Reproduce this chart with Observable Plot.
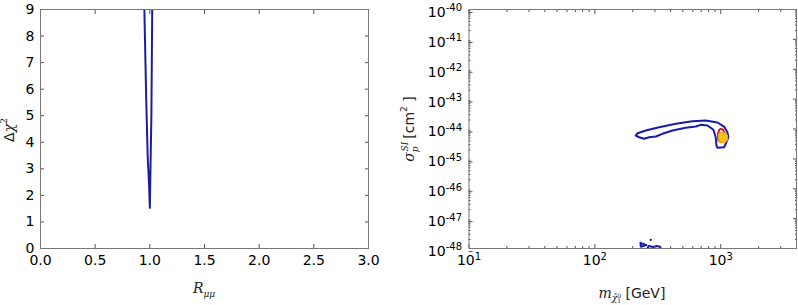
<!DOCTYPE html>
<html><head><meta charset="utf-8">
<script src="https://cdn.jsdelivr.net/npm/d3@7"></script>
<script src="https://cdn.jsdelivr.net/npm/@observablehq/plot@0.6"></script>
<style>
html,body{margin:0;padding:0;background:#fff;}
#wrap{position:relative;width:798px;height:305px;overflow:hidden;background:#fff;}
#left,#right{position:absolute;top:0;}
#left{left:0;} #right{left:380px;}
</style></head><body><div id="wrap"><div id="left"></div><div id="right"></div></div>
<script>
// ---- Left panel: Delta chi^2 vs R_mumu ----
const rmumu = [0.950, 0.967, 0.980, 0.993, 1.000, 1.014, 1.022];
const dchi2 = [9.0, 5.6, 3.5, 2.4, 1.53, 5.0, 9.0];
const leftXTicks = [0, 0.5, 1.0, 1.5, 2.0, 2.5, 3.0];
const leftYTicks = [0, 1, 2, 3, 4, 5, 6, 7, 8, 9];

// ---- Right panel: sigma_p^SI vs neutralino mass ----
const outerMass  = [211, 218, 254, 324, 440, 596, 760, 942, 1062, 1130, 1151, 1096, 1062, 942, 925, 912, 875, 784, 693, 634, 527, 414, 344, 305, 270, 246, 225, 211];
const outerSigma = [6.05e-45, 7.2e-45, 8.9e-45, 1.15e-44, 1.49e-44, 1.82e-44, 1.93e-44, 1.65e-44, 1.21e-44, 7.8e-45, 5.3e-45, 3.2e-45, 2.46e-45, 2.35e-45, 2.8e-45, 5.3e-45, 9.4e-45, 1.31e-44, 1.38e-44, 1.21e-44, 1.1e-44, 8.9e-45, 6.9e-45, 5.6e-45, 5.3e-45, 4.7e-45, 5.3e-45, 6.05e-45];
const redMass  = [955, 950, 972, 1000, 1045, 1078, 1085, 1020, 955];
const redSigma = [4.2e-45, 6.8e-45, 9.2e-45, 1.02e-44, 9.3e-45, 7.0e-45, 4.2e-45, 3.6e-45, 4.2e-45];
const yelMass  = [962, 1000, 1090, 1135, 1130, 1090, 1000, 962, 962];
const yelSigma = [6.8e-45, 7.6e-45, 7.3e-45, 6.0e-45, 4.3e-45, 3.6e-45, 3.5e-45, 4.2e-45, 6.8e-45];
const blobAMass  = [230, 257, 232, 230];
const blobASigma = [1.55e-48, 1.3e-48, 1.15e-48, 1.55e-48];
const blobBMass  = [258, 268, 290, 310, 330, 336];
const blobBSigma = [0.9e-48, 1.22e-48, 1.12e-48, 1.22e-48, 1.15e-48, 0.9e-48];
const dotMass = [278];
const dotSigma = [1.95e-48];
const rightXTicks = [1e1, 1e2, 1e3];
const rightYTicks = [1e-40, 1e-41, 1e-42, 1e-43, 1e-44, 1e-45, 1e-46, 1e-47, 1e-48];

const zip = (xs, ys) => xs.map((x, i) => ({x, y: ys[i]}));
const minorX = [];
for (const d of [10, 100, 1000]) for (let k = 2; k <= 9; k++) if (k * d <= 4000) minorX.push(k * d);
const minorY = [];
for (let e = -48; e < -40; e++) for (let k = 2; k <= 9; k++) minorY.push(k * Math.pow(10, e));

const FONT = "DejaVu Sans";
const AX = "#555";
const FS = 14;
const empty = () => "";

function supify(svg) {
  d3.select(svg).selectAll("text").each(function () {
    const t = this.textContent;
    if (t && t.includes("^")) {
      const [b, e] = t.split("^");
      const s = d3.select(this);
      this.textContent = "";
      s.append("tspan").text(b);
      s.append("tspan").attr("dy", "-0.55em").attr("font-size", "10px").text(e);
    }
  });
}

// Left plot
const left = Plot.plot({
  width: 380, height: 305,
  marginLeft: 40, marginRight: 12, marginTop: 9, marginBottom: 57,
  style: {fontFamily: FONT, fontSize: "14px", color: "#000", background: "transparent"},
  x: {domain: [0, 3]},
  y: {domain: [0, 9]},
  marks: [
    Plot.line(zip(rmumu, dchi2), {x: "x", y: "y", stroke: "#1e1e9a", strokeWidth: 2, clip: true}),
    Plot.axisX(leftXTicks, {anchor: "bottom", tickSize: -4, tickPadding: 11, fontSize: FS, stroke: AX, tickFormat: d3.format(".1f"), label: null}),
    Plot.axisX(leftXTicks, {anchor: "top", tickSize: -4, stroke: AX, tickFormat: empty, label: null}),
    Plot.axisY(leftYTicks, {anchor: "left", tickSize: -4, tickPadding: 10, fontSize: FS, stroke: AX, tickFormat: d3.format("d"), label: null}),
    Plot.axisY(leftYTicks, {anchor: "right", tickSize: -4, stroke: AX, tickFormat: empty, label: null}),
    Plot.frame({stroke: "#777"})
  ]
});
document.getElementById("left").append(left);
{
  const s = d3.select(left);
  const yl = s.append("text").attr("transform", "translate(14,130) rotate(-90)")
    .attr("text-anchor", "middle").attr("fill", "#222").attr("font-size", "14px");
  yl.append("tspan").attr("font-family", "DejaVu Sans").text("Δ");
  yl.append("tspan").attr("font-family", "DejaVu Serif").attr("font-style", "italic").text("χ");
  yl.append("tspan").attr("font-family", "DejaVu Serif").attr("font-size", "9px").attr("dy", "-7").text("2");
  const xl = s.append("text").attr("x", 204).attr("y", 293)
    .attr("text-anchor", "middle").attr("fill", "#222").attr("font-size", "14px").attr("font-family", "DejaVu Serif");
  xl.append("tspan").attr("font-style", "italic").text("R");
  xl.append("tspan").attr("font-style", "italic").attr("font-size", "9px").attr("dy", "4").text("μμ");
}

// Right plot
const right = Plot.plot({
  width: 418, height: 305,
  marginLeft: 88.5, marginRight: 2, marginTop: 9, marginBottom: 57,
  style: {fontFamily: FONT, fontSize: "14px", color: "#000", background: "transparent"},
  x: {type: "log", domain: [10, 4000]},
  y: {type: "log", domain: [1e-48, 1e-40]},
  marks: [
    Plot.line(zip(outerMass, outerSigma), {x: "x", y: "y", stroke: "#1a1aac", strokeWidth: 2, clip: true}),
    Plot.line(zip(redMass, redSigma), {x: "x", y: "y", stroke: "#d42020", strokeWidth: 2, clip: true}),
    Plot.line(zip(yelMass, yelSigma), {x: "x", y: "y", stroke: "#f0a020", fill: "#f7c21a", strokeWidth: 1.2, clip: true}),
    Plot.line(zip(blobAMass, blobASigma), {x: "x", y: "y", stroke: "#1a1aac", strokeWidth: 2, clip: true}),
    Plot.line(zip(blobBMass, blobBSigma), {x: "x", y: "y", stroke: "#1a1aac", strokeWidth: 2, clip: true}),
    Plot.dot(zip(dotMass, dotSigma), {x: "x", y: "y", r: 1.2, fill: "#1a1aac", clip: true}),
    Plot.axisX(minorX, {anchor: "bottom", tickSize: -2, stroke: AX, tickFormat: empty, label: null}),
    Plot.axisX(minorX, {anchor: "top", tickSize: -2, stroke: AX, tickFormat: empty, label: null}),
    Plot.axisY(minorY, {anchor: "left", tickSize: -2, stroke: AX, tickFormat: empty, label: null}),
    Plot.axisY(minorY, {anchor: "right", tickSize: -2, stroke: AX, tickFormat: empty, label: null}),
    Plot.axisX(rightXTicks, {anchor: "bottom", tickSize: -4, tickPadding: 11, fontSize: FS, stroke: AX, tickFormat: d => `10^${Math.round(Math.log10(d))}`, label: null}),
    Plot.axisX(rightXTicks, {anchor: "top", tickSize: -4, stroke: AX, tickFormat: empty, label: null}),
    Plot.axisY(rightYTicks, {anchor: "left", tickSize: -4, tickPadding: 11, dy: 3, fontSize: FS, stroke: AX, tickFormat: d => `10^${Math.round(Math.log10(d))}`, label: null}),
    Plot.axisY(rightYTicks, {anchor: "right", tickSize: -4, stroke: AX, tickFormat: empty, label: null}),
    Plot.frame({stroke: "#777"})
  ]
});
document.getElementById("right").append(right);
supify(right);
{
  const s = d3.select(right);
  const yl = s.append("text").attr("transform", "translate(34,129) rotate(-90)")
    .attr("text-anchor", "middle").attr("fill", "#222").attr("font-size", "14px");
  yl.append("tspan").attr("font-family", "DejaVu Serif").attr("font-style", "italic").text("σ");
  yl.append("tspan").attr("font-family", "DejaVu Serif").attr("font-style", "italic").attr("font-size", "9px").attr("dy", "4").text("p");
  yl.append("tspan").attr("font-family", "DejaVu Serif").attr("font-style", "italic").attr("font-size", "9px").attr("dx", "-5").attr("dy", "-10").text("SI");
  yl.append("tspan").attr("font-family", "DejaVu Sans").attr("dx", "3").attr("dy", "6").text("[cm");
  yl.append("tspan").attr("font-family", "DejaVu Sans").attr("font-size", "9px").attr("dy", "-7").text("2");
  yl.append("tspan").attr("font-family", "DejaVu Sans").attr("dy", "7").text(" ]");
  const xl = s.append("text").attr("x", 252).attr("y", 298)
    .attr("text-anchor", "middle").attr("fill", "#222").attr("font-size", "14px");
  xl.append("tspan").attr("font-family", "DejaVu Serif").attr("font-style", "italic").text("m");
  xl.append("tspan").attr("font-family", "DejaVu Serif").attr("font-style", "italic").attr("font-size", "9px").attr("dy", "3").text("χ̃");
  xl.append("tspan").attr("font-family", "DejaVu Serif").attr("font-size", "6px").attr("dy", "-3").text("0");
  xl.append("tspan").attr("font-family", "DejaVu Serif").attr("font-size", "6px").attr("dx", "-4").attr("dy", "5").text("1");
  xl.append("tspan").attr("font-family", "DejaVu Sans").attr("dy", "-5").text(" [GeV]");
}
</script></body></html>
